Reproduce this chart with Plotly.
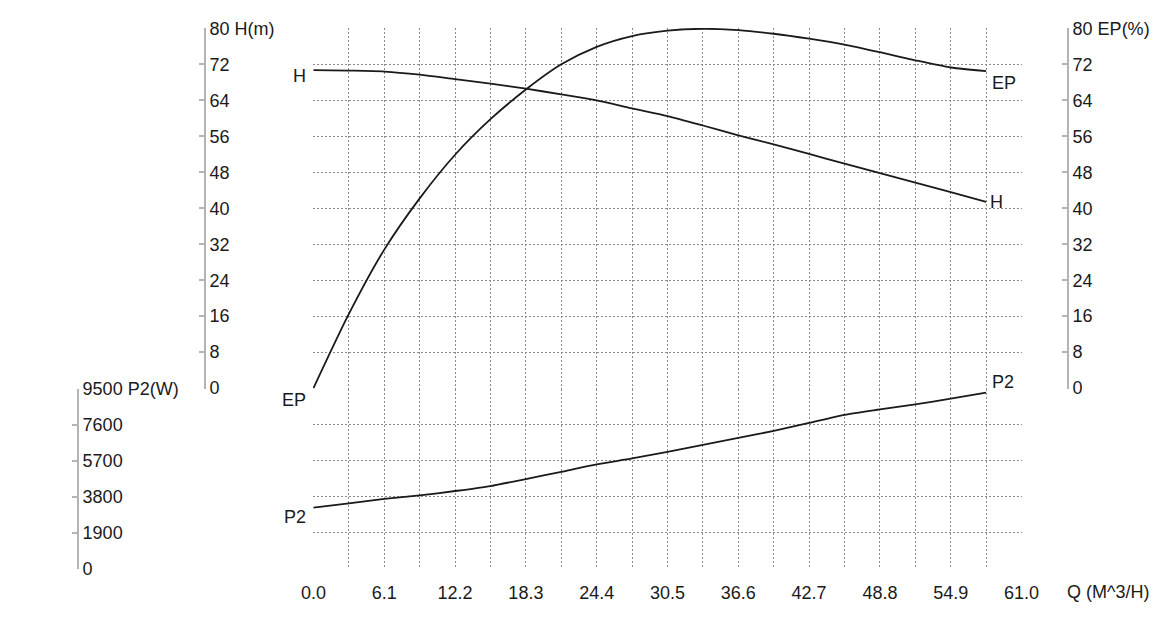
import plotly.graph_objects as go

# pump curve readings, Q in m3/h
q = [0.0, 3.05, 6.1, 9.15, 12.2, 15.25, 18.3, 21.35, 24.4, 27.45, 30.5,
     33.55, 36.6, 39.65, 42.7, 45.75, 48.8, 51.85, 54.9, 57.95]
head = [70.7, 70.6, 70.4, 69.7, 68.7, 67.7, 66.6, 65.3, 64.0, 62.2, 60.5,
        58.4, 56.2, 54.2, 52.1, 49.9, 47.8, 45.7, 43.6, 41.4]
eff = [0.0, 16.5, 30.8, 42.2, 51.9, 59.8, 66.4, 72.0, 75.9, 78.3, 79.5,
       79.9, 79.6, 78.8, 77.7, 76.4, 74.7, 72.9, 71.3, 70.5]
power = [3224, 3455, 3682, 3870, 4103, 4366, 4734, 5118, 5507, 5823, 6170,
         6540, 6906, 7275, 7696, 8120, 8410, 8679, 8979, 9295]

x_ticks = [round(i * 3.05, 2) for i in range(21)]
x_text = ["%.1f" % v if i % 2 == 0 else "" for i, v in enumerate(x_ticks)]
h_ticks = list(range(0, 81, 8))
h_text = [str(v) for v in h_ticks[:-1]] + ["80 H(m)"]
ep_text = [str(v) for v in h_ticks[:-1]] + ["80 EP(%)"]
p2_ticks = [0, 1900, 3800, 5700, 7600, 9500]
p2_text = [str(v) for v in p2_ticks[:-1]] + ["9500 P2(W)"]

# the page body has an 8px margin, so the figure is a bit smaller and shifted
OFF = 8
W, H = 1173 - OFF, 635 - OFF
FONT = dict(family="Liberation Sans, Arial, sans-serif", size=18, color="#1a1a1a")
GRID = dict(showgrid=True, gridcolor="#8a8a8a", gridwidth=1, griddash="2px,2px",
            zeroline=False, automargin=False)
AXLINE = dict(showline=True, linecolor="#b4b4b4", linewidth=2,
              ticks="inside", ticklen=5, tickcolor="#b4b4b4", tickwidth=2)

px = lambda v: (v - OFF) / W
py = lambda v: 1 - (v - OFF) / H

line = dict(color="#1a1a1a", width=1.8, shape="spline", smoothing=0.7)

fig = go.Figure()
fig.add_trace(go.Scatter(x=q, y=head, mode="lines", line=line, xaxis="x", yaxis="y"))
fig.add_trace(go.Scatter(x=q, y=eff, mode="lines", line=line, xaxis="x", yaxis="y3"))
fig.add_trace(go.Scatter(x=q, y=power, mode="lines", line=line, xaxis="x", yaxis="y2"))

# ranges padded a hair so the edge grid lines are kept
fig.update_layout(
    width=W, height=H,
    margin=dict(l=0, r=0, t=0, b=0),
    paper_bgcolor="white", plot_bgcolor="white",
    showlegend=False,
    font=FONT,
    xaxis=dict(domain=[px(313), px(1022)], range=[-0.04, 61.04], anchor="y2",
               tickvals=x_ticks, ticktext=x_text, ticks="outside", ticklen=7,
               tickcolor="rgba(0,0,0,0)", showline=False, **GRID),
    yaxis=dict(domain=[py(388.5), py(28)], range=[-0.08, 80.08], anchor="free",
               position=px(205), side="right", tickvals=h_ticks, ticktext=h_text,
               **GRID, **AXLINE),
    yaxis2=dict(domain=[py(569), py(388.5)], range=[-15, 9515], anchor="free",
                position=px(78), side="right", tickvals=p2_ticks, ticktext=p2_text,
                **GRID, **AXLINE),
    yaxis3=dict(overlaying="y", range=[-0.08, 80.08], anchor="free", position=px(1068),
                side="right", tickvals=h_ticks, ticktext=ep_text, showgrid=False,
                zeroline=False, automargin=False, **AXLINE),
)

# curve names at both ends
labels = [
    ("H", q[0], head[0], "y", "right", -5, -6),
    ("EP", q[0], eff[0], "y3", "right", -5, -12),
    ("P2", q[0], power[0], "y2", "right", -5, -9),
    ("H", q[-1], head[-1], "y", "left", 2, 0),
    ("EP", q[-1], eff[-1], "y3", "left", 4, -12),
    ("P2", q[-1], power[-1], "y2", "left", 4, 11),
]
for text, xv, yv, yref, anchor, dx, dy in labels:
    fig.add_annotation(x=xv, y=yv, xref="x", yref=yref, text=text, showarrow=False,
                       xanchor=anchor, yanchor="middle", xshift=dx, yshift=dy,
                       font=FONT)

fig.add_annotation(x=61.0, y=0, xref="x", yref="y2", text="Q (M^3/H)",
                   showarrow=False, xanchor="left", yanchor="middle",
                   xshift=43, yshift=-23, font=FONT)

fig.write_html("out.html")
